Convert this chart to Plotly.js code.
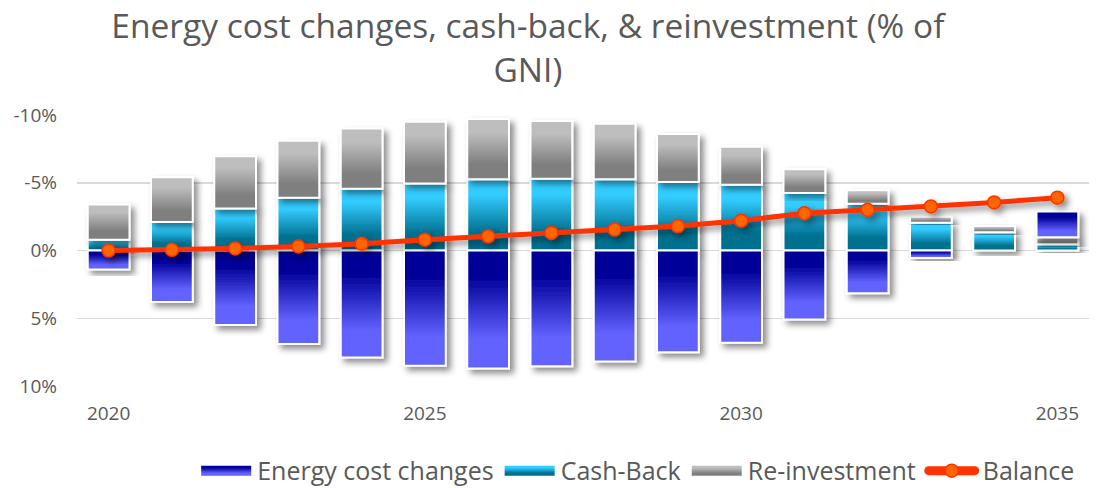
<!DOCTYPE html>
<html>
<head>
<meta charset="utf-8">
<script src="https://cdn.plot.ly/plotly-3.0.1.min.js"></script>
<style>
  html, body { margin: 0; padding: 0; background: #fff; }
  #plot { width: 1109px; height: 488px; }
</style>
</head>
<body>
<div id="plot"></div>
<script>
// Data (% of GNI, axis is reversed so negatives are drawn upward)
const years = [2020, 2021, 2022, 2023, 2024, 2025, 2026, 2027, 2028, 2029, 2030, 2031, 2032, 2033, 2034, 2035];
const energyCost = [1.4, 3.8, 5.5, 6.9, 7.9, 8.5, 8.7, 8.55, 8.2, 7.5, 6.8, 5.1, 3.15, 0.55, 0, -1.9];
const cashBack = [-0.8, -2.1, -3.1, -3.9, -4.55, -4.95, -5.25, -5.3, -5.25, -5.05, -4.85, -4.25, -3.45, -2.05, -1.35, -0.47];
const reinvest = [-2.6, -3.3, -3.85, -4.2, -4.45, -4.55, -4.45, -4.25, -4.1, -3.55, -2.8, -1.75, -1.0, -0.45, -0.45, -0.5];
const balance = [0.0, -0.05, -0.15, -0.3, -0.5, -0.8, -1.05, -1.3, -1.55, -1.8, -2.2, -2.75, -3.0, -3.25, -3.55, -3.9];

const yTickVals = [-10, -5, 0, 5, 10];
const yTickText = ['-10%', '-5%', '0%', '5%', '10%'];
const xTickVals = [2020, 2025, 2030, 2035];

const FONT = '"Open Sans", Lato, sans-serif';
const GREY = '#595959';

const plotDiv = document.getElementById('plot');

// trace order = stacking order of negatives (cash-back nearest zero, then re-investment, then energy)
const traces = [
    {
        x: years, y: cashBack, type: 'bar', name: 'Cash-Back', legendrank: 2,
        marker: {color: '#1aa3cc', line: {color: '#ffffff', width: 2}}
    },
    {
        x: years, y: reinvest, type: 'bar', name: 'Re-investment', legendrank: 3,
        marker: {color: '#a0a0a0', line: {color: '#ffffff', width: 2}}
    },
    {
        x: years, y: energyCost, type: 'bar', name: 'Energy cost changes', legendrank: 1,
        marker: {color: '#2a2ad0', line: {color: '#ffffff', width: 2}}
    },
    {
        x: years, y: balance, type: 'scatter', mode: 'lines+markers', name: 'Balance', legendrank: 4,
        line: {color: '#ff3300', width: 5},
        marker: {color: '#ff6600', size: 13, line: {color: '#ff3300', width: 1.5}}
    }
];

const layout = {
    width: 1109,
    height: 488,
    paper_bgcolor: '#ffffff',
    plot_bgcolor: '#ffffff',
    margin: {l: 77, r: 20, t: 115, b: 102, autoexpand: false},
    barmode: 'relative',
    bargap: 0.34,
    font: {family: FONT, color: GREY, size: 19},
    title: {
        text: 'Energy cost changes, cash-back, & reinvestment (% of<br>GNI)',
        font: {family: FONT, size: 33.5, color: GREY},
        x: 0.476, xanchor: 'center',
        y: 0.922, yanchor: 'top'
    },
    xaxis: {
        range: [2019.5, 2035.5],
        tickvals: xTickVals,
        ticks: '',
        showgrid: false,
        zeroline: false,
        showline: false,
        ticklabelstandoff: 14,
        tickfont: {size: 19, color: GREY}
    },
    yaxis: {
        range: [10, -10],
        tickvals: yTickVals,
        ticktext: yTickText,
        showgrid: true,
        gridcolor: '#d9d9d9',
        gridwidth: 1.5,
        zeroline: true,
        zerolinecolor: '#d9d9d9',
        zerolinewidth: 1.5,
        ticks: '',
        ticklabelstandoff: 19,
        tickfont: {size: 19, color: GREY}
    },
    legend: {
        orientation: 'h',
        xref: 'container', yref: 'container',
        x: 0.575, xanchor: 'center',
        y: 0.035, yanchor: 'middle',
        itemwidth: 52,
        font: {size: 25, color: GREY},
        traceorder: 'normal'
    },
    showlegend: true
};

// Gradients and shadows like the original (bars have vertical gradient fills)
const gradients = {
    'Cash-Back': ['#33ccff', '#006f8f'],
    'Re-investment': ['#bebebe', '#7f7f7f'],
    'Energy cost changes': ['#000099', '#6262ff']
};

function svgEl(tag, attrs) {
    const el = document.createElementNS('http://www.w3.org/2000/svg', tag);
    for (const k in attrs) el.setAttribute(k, attrs[k]);
    return el;
}

function addEffects() {
    const svg = plotDiv.querySelector('.main-svg');
    const defs = svgEl('defs', {});
    const ids = {};
    Object.keys(gradients).forEach((name, i) => {
        const id = 'grad' + i;
        ids[name] = id;
        const g = svgEl('linearGradient', {id: id, x1: 0, y1: 0, x2: 0, y2: 1});
        g.appendChild(svgEl('stop', {offset: '0.22', 'stop-color': gradients[name][0]}));
        g.appendChild(svgEl('stop', {offset: '0.75', 'stop-color': gradients[name][1]}));
        defs.appendChild(g);
    });
    const f = svgEl('filter', {id: 'shadow', x: '-30%', y: '-30%', width: '160%', height: '160%'});
    f.appendChild(svgEl('feDropShadow', {dx: 4, dy: 4, stdDeviation: 3, 'flood-color': '#000', 'flood-opacity': 0.45}));
    defs.appendChild(f);
    svg.insertBefore(defs, svg.firstChild);

    plotDiv.querySelectorAll('.barlayer .trace').forEach((tr, i) => {
        const name = traces[i].name;
        tr.querySelectorAll('path').forEach(p => {
            p.style.fill = 'url(#' + ids[name] + ')';
            p.setAttribute('filter', 'url(#shadow)');
        });
    });
    plotDiv.querySelectorAll('.scatterlayer .trace').forEach(tr => {
        tr.setAttribute('filter', 'url(#shadow)');
    });

    // legend swatches as wide rectangles / thick line
    plotDiv.querySelectorAll('.legend .traces').forEach(item => {
        const name = item.querySelector('.legendtext').getAttribute('data-unformatted');
        if (ids[name]) {
            item.querySelectorAll('.legendpoints path').forEach(p => {
                p.setAttribute('d', 'M-25,-5h50v10h-50z');
                p.style.fill = 'url(#' + ids[name] + ')';
                p.style.stroke = 'none';
            });
        } else {
            item.querySelectorAll('.legendlines path').forEach(p => {
                p.setAttribute('d', 'M8,0h46');
                p.style.strokeWidth = '9px';
                p.style.strokeLinecap = 'round';
            });
        }
    });
}

Plotly.newPlot(plotDiv, traces, layout, {displayModeBar: false, staticPlot: true}).then(addEffects);
</script>
</body>
</html>
